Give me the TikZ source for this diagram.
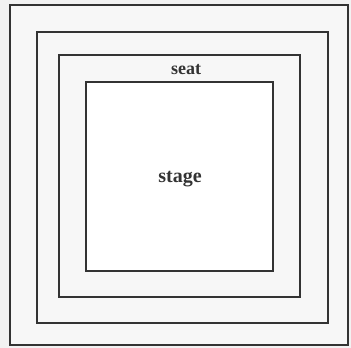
\documentclass[tikz,border=0pt]{standalone}
\usepackage{fontspec}
\setmainfont{Liberation Serif}
\begin{document}
\begin{tikzpicture}[x=1pt,y=-1pt,
  ring/.style={draw=black!80,line width=1.6pt,fill=black!3},
  lbl/.style={font=\bfseries,text=black!80,inner sep=0pt}]
\fill[black!5] (0,0) rectangle (351,348);
\useasboundingbox (0,0) rectangle (351,348);
\node[ring,minimum width=338pt,minimum height=340pt,inner sep=0pt] (outer) at (179,175) {};
\node[ring,minimum width=291pt,minimum height=291pt,inner sep=0pt] (second) at (182.5,177.5) {};
\node[ring,minimum width=241pt,minimum height=242pt,inner sep=0pt] (third) at (179.5,176) {};
\node[ring,fill=white,minimum width=187pt,minimum height=189pt,inner sep=0pt] (stagebox) at (179.5,176.5) {};
\node[lbl,font=\fontsize{18}{20}\selectfont\bfseries] (seat) at (186,70) {seat};
\node[lbl,font=\fontsize{20}{22}\selectfont\bfseries] (stage) at (180,179) {stage};
\end{tikzpicture}
\end{document}
